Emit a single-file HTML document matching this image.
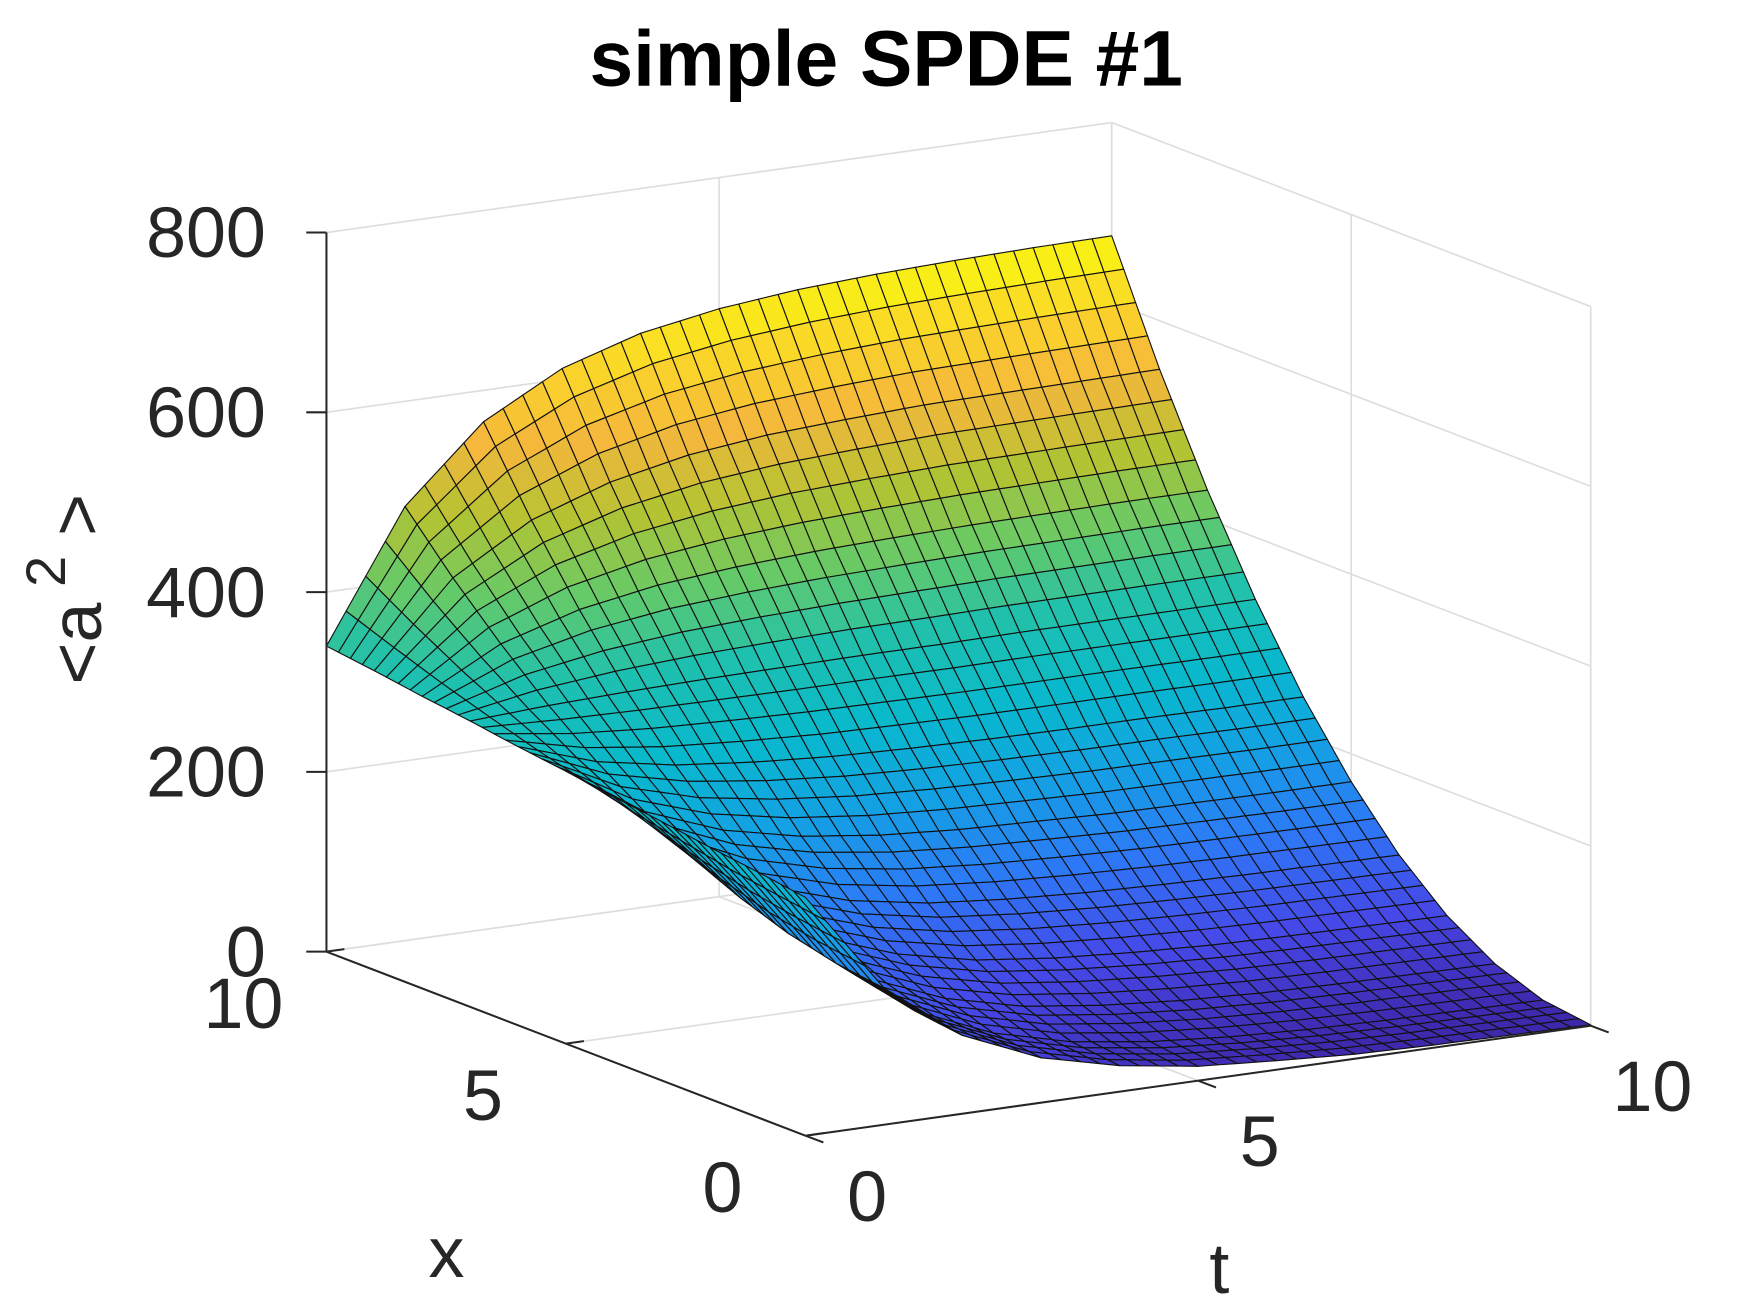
<!DOCTYPE html>
<html><head><meta charset="utf-8"><style>
html,body{margin:0;padding:0;background:#fff}
svg{display:block}
text{font-family:"Liberation Sans",sans-serif;fill:#262626}
</style></head><body>
<svg id="chart" width="1750" height="1313" viewBox="0 0 1560 1170" preserveAspectRatio="none" xmlns="http://www.w3.org/2000/svg">
<rect width="1560" height="1170" fill="#fff"/>
<g id="walls"></g>
<g id="surf"></g>
<g id="axes"></g>
<text x="790" y="76" text-anchor="middle" font-size="70" font-weight="bold" style="fill:#000">simple SPDE #1</text>
<text x="398" y="1138" text-anchor="middle" font-size="64">x</text>
<text x="1087" y="1152" text-anchor="middle" font-size="64">t</text>
<text transform="translate(90,525) rotate(-90)" text-anchor="middle" font-size="64">&lt;a<tspan dy="-32" font-size="50"> 2</tspan><tspan dy="32"> &gt;</tspan></text>
</svg>
<script>
const tVals=[0,1,2,3,4,5,6,7,8,9,10];
const xVals=[0,1,2,3,4,5,6,7,8,9,10];
// zData[i][j] : t = tVals[i], x = xVals[j]
const zData=[
[265,273,280,288,295,303,310,318,325,333,340],
[152,159,172,191,215,246,281,323,371,424,483],
[87,94,110,135,170,213,265,326,397,476,565],
[50,57,75,104,143,194,256,328,412,506,612],
[29,35,54,85,128,183,250,329,420,524,639],
[16,23,43,75,120,177,247,330,425,534,654],
[10,16,36,69,115,174,245,330,428,539,663],
[5,12,32,65,112,171,244,331,430,543,668],
[3,10,30,63,110,170,244,331,431,544,671],
[2,9,29,62,109,169,243,331,432,545,673],
[1,8,28,61,108,169,243,331,432,546,674]];
const zTicks=[0,200,400,600,800];
const tTicks=[0,5,10];
const xTicks=[0,5,10];

const NS="http://www.w3.org/2000/svg";
function P(t,x,z){return [718+70*t-42.7*x, 1012-9.8*t-16.4*x-0.801*z];}
function mk(tag,attrs,parent){const e=document.createElementNS(NS,tag);for(const k in attrs)e.setAttribute(k,attrs[k]);parent.appendChild(e);return e;}
const walls=document.getElementById('walls'),surf=document.getElementById('surf'),axes=document.getElementById('axes');
function line(a,b,col,w,parent,name){const l=mk('line',{x1:a[0],y1:a[1],x2:b[0],y2:b[1],stroke:col,'stroke-width':w},parent);

return l;}
const G='#dedede';
zTicks.forEach(z=>{line(P(0,10,z),P(10,10,z),G,1.5,walls,'grid-z-back');line(P(10,10,z),P(10,0,z),G,1.5,walls,'grid-z-right');});
tTicks.forEach(t=>{line(P(t,10,0),P(t,10,800),G,1.5,walls,'grid-t-back');line(P(t,10,0),P(t,0,0),G,1.5,walls,'grid-t-floor');});
xTicks.forEach(x=>{line(P(10,x,0),P(10,x,800),G,1.5,walls,'grid-x-right');line(P(10,x,0),P(0,x,0),G,1.5,walls,'grid-x-floor');});

const stops=[[62,38,168],[70,72,232],[45,120,246],[20,160,228],[8,185,205],[30,192,175],[100,202,105],[180,195,50],[245,183,60],[250,215,40],[249,251,14]];
function cmap(z){let v=Math.max(0,Math.min(1,z/680))*10;const i=Math.min(9,Math.floor(v)),f=v-i;const a=stops[i],b=stops[i+1];
return 'rgb('+a.map((c,k)=>Math.round(c+(b[k]-c)*f)).join(',')+')';}
const S=4,quads=[];
for(let i=0;i<tVals.length-1;i++)for(let j=0;j<xVals.length-1;j++){
 const z00=zData[i][j],z10=zData[i+1][j],z01=zData[i][j+1],z11=zData[i+1][j+1];
 const t0=tVals[i],t1=tVals[i+1],x0=xVals[j],x1=xVals[j+1];
 for(let a=0;a<S;a++)for(let b=0;b<S;b++){
  const pts=[[a,b],[a+1,b],[a+1,b+1],[a,b+1]].map(([u,w])=>{u/=S;w/=S;
   const z=z00*(1-u)*(1-w)+z10*u*(1-w)+z01*(1-u)*w+z11*u*w;
   return [t0+(t1-t0)*u,x0+(x1-x0)*w,z];});
  const tc=(pts[0][0]+pts[2][0])/2,xc=(pts[0][1]+pts[2][1])/2,zc=pts.reduce((s,p)=>s+p[2],0)/4;
  quads.push({pts,key:9.8*tc+16.4*xc,zc});
 }}
quads.sort((p,q)=>q.key-p.key);
quads.forEach(q=>{const d=q.pts.map(p=>P(p[0],p[1],p[2]).map(v=>v.toFixed(1)).join(',')).join(' ');
 const e=mk('polygon',{points:d,fill:cmap(q.zc),stroke:'#111','stroke-width':1,'stroke-linejoin':'round'},surf);
 
 });

const A='#262626';
line(P(0,10,0),P(0,10,800),A,1.8,axes,'z-axis-line');
line(P(0,10,0),P(0,0,0),A,1.8,axes,'x-axis-line');
line(P(0,0,0),P(10,0,0),A,1.8,axes,'t-axis-line');
zTicks.forEach(z=>{const p=P(0,10,z);line(p,[p[0]-18,p[1]],A,1.8,axes,'z-tick');
 const e=mk('text',{x:p[0]-54,y:p[1]+22,'text-anchor':'end','font-size':64},axes);e.textContent=z;
 
 });
xTicks.forEach(x=>{const p=P(0,x,0);line(p,[p[0]+16,p[1]-2.3],A,1.8,axes,'x-tick');
 const e=mk('text',{x:p[0]-74,y:p[1]+68,'text-anchor':'middle','font-size':64},axes);e.textContent=x;
 
 });
tTicks.forEach(t=>{const p=P(t,0,0);line(p,[p[0]+16,p[1]+6],A,1.8,axes,'t-tick');
 const e=mk('text',{x:p[0]+55,y:p[1]+76,'text-anchor':'middle','font-size':64},axes);e.textContent=t;
 
 });
</script>
</body></html>
